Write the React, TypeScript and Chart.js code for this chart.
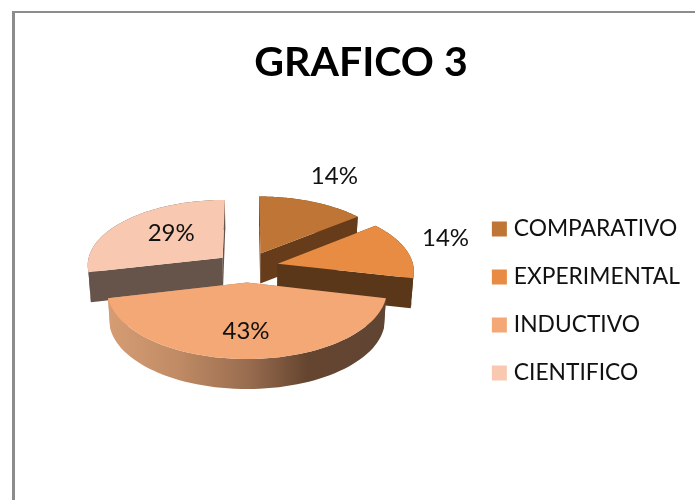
import React, { useEffect, useRef } from "react";
import { Chart, registerables } from "chart.js";

Chart.register(...registerables);

const categories = ["COMPARATIVO", "EXPERIMENTAL", "INDUCTIVO", "CIENTIFICO"];
const counts = [1, 1, 3, 2];
const sliceColors = ["#BF7535", "#E78C42", "#F4A876", "#F8C9B0"];
const wallColors = ["#663C1A", "#5A3718", "", "#66544A"];
const titleText = "GRAFICO 3";
const FONT = "Lato, Carlito, Calibri, sans-serif";

// Perspective of the pie plane
const CX = 247, CY = 267, R = 136, A = 65.4, K = 0.101, EXPLODE = 0.232, DEPTH = 30;
const project = (u: number, v: number) => {
  const w = 1 - K * v;
  return { x: CX + (R * u) / w, y: CY + (A * v) / w };
};
const lower = (p: { x: number; y: number }) => ({
  x: CX + (p.x - CX) * 0.985,
  y: p.y + DEPTH,
});

const labelRadius = [1.71, 1.39, 0.63, 0.587];
const labelNudge = [[-10, 7], [-9, -6], [-1, 3], [7, -2]];

const pie3d = {
  id: "pie3d",
  beforeDraw(chart: any) {
    const { ctx, width, height } = chart;
    ctx.save();
    ctx.fillStyle = "#8C8C8C";
    ctx.fillRect(12, 11, 3, height - 11);
    ctx.fillRect(12, 11, width - 12, 2);
    ctx.restore();
  },
  beforeDatasetsDraw(chart: any) {
    const { ctx } = chart;
    const arcs = chart.getDatasetMeta(0).data;
    const vals = chart.data.datasets[0].data as number[];
    const total = vals.reduce((a: number, b: number) => a + b, 0);
    const geo = arcs.map((el: any) => {
      const { startAngle, endAngle } = el.getProps(["startAngle", "endAngle"], true);
      const mid = (startAngle + endAngle) / 2;
      const ou = Math.cos(mid) * EXPLODE;
      const ov = Math.sin(mid) * EXPLODE;
      const apex = project(ou, ov);
      const rim: any[] = [];
      const n = 64;
      for (let i = 0; i <= n; i++) {
        const a = startAngle + ((endAngle - startAngle) * i) / n;
        rim.push(project(ou + Math.cos(a), ov + Math.sin(a)));
      }
      return { el, mid, apex, rim, ou, ov };
    });
    const trace = (list: any[]) => {
      ctx.beginPath();
      list.forEach((q: any, i: number) => (i ? ctx.lineTo(q.x, q.y) : ctx.moveTo(q.x, q.y)));
      ctx.closePath();
    };
    const order = [3, 0, 1, 2];
    order.forEach((i) => {
      const g = geo[i];
      let wall: any = wallColors[i];
      if (!wall) {
        wall = ctx.createLinearGradient(108, 0, 385, 0);
        wall.addColorStop(0, "#D69D74");
        wall.addColorStop(0.25, "#C08B65");
        wall.addColorStop(0.5, "#9A6D50");
        wall.addColorStop(0.72, "#65452F");
        wall.addColorStop(1, "#604433");
      }
      ctx.fillStyle = wall;
      const first = g.rim[0];
      const last = g.rim[g.rim.length - 1];
      trace([g.apex, first, lower(first), lower(g.apex)]);
      ctx.fill();
      trace([g.apex, last, lower(last), lower(g.apex)]);
      ctx.fill();
      trace([...g.rim, ...g.rim.map(lower).reverse()]);
      ctx.fill();
      trace([g.apex, ...g.rim]);
      ctx.fillStyle = g.el.options.backgroundColor;
      ctx.fill();
    });
    ctx.fillStyle = "#111111";
    ctx.font = `24px ${FONT}`;
    ctx.textAlign = "center";
    ctx.textBaseline = "middle";
    geo.forEach((g: any, i: number) => {
      const f = labelRadius[i];
      const pos = project(g.ou + Math.cos(g.mid) * f, g.ov + Math.sin(g.mid) * f);
      const pct = Math.round((vals[i] / total) * 100) + "%";
      ctx.fillText(pct, pos.x + labelNudge[i][0], pos.y + labelNudge[i][1]);
    });
    return false;
  },
};

export default function App() {
  const ref = useRef<HTMLCanvasElement>(null);
  useEffect(() => {
    const base = (Chart as any).overrides.pie.plugins.legend.labels.generateLabels;
    const chart = new Chart(ref.current as HTMLCanvasElement, {
      type: "pie",
      data: {
        labels: categories,
        datasets: [{ data: counts, backgroundColor: sliceColors, borderWidth: 0 }],
      },
      options: {
        responsive: false,
        animation: false,
        devicePixelRatio: 1,
        layout: { padding: { left: 32, right: 5, top: 38, bottom: -64 } },
        plugins: {
          tooltip: { enabled: false },
          title: {
            display: true,
            text: titleText,
            color: "#000000",
            font: { family: FONT, size: 41, weight: "bold" },
            padding: { top: 0, bottom: 10 },
          },
          legend: {
            display: true,
            position: "right",
            labels: {
              color: "#111111",
              font: { family: FONT, size: 22.8 },
              boxWidth: 6,
              boxHeight: 6,
              padding: 25.2,
              generateLabels(c: any) {
                return base(c).map((l: any) => ({ ...l, strokeStyle: l.fillStyle, lineWidth: 9 }));
              },
            },
          },
        },
      } as any,
      plugins: [pie3d as any],
    });
    return () => chart.destroy();
  }, []);
  return (
    <canvas
      ref={ref}
      width={695}
      height={500}
      style={{ position: "absolute", left: 0, top: 0, display: "block", width: 695, height: 500 }}
    />
  );
}
